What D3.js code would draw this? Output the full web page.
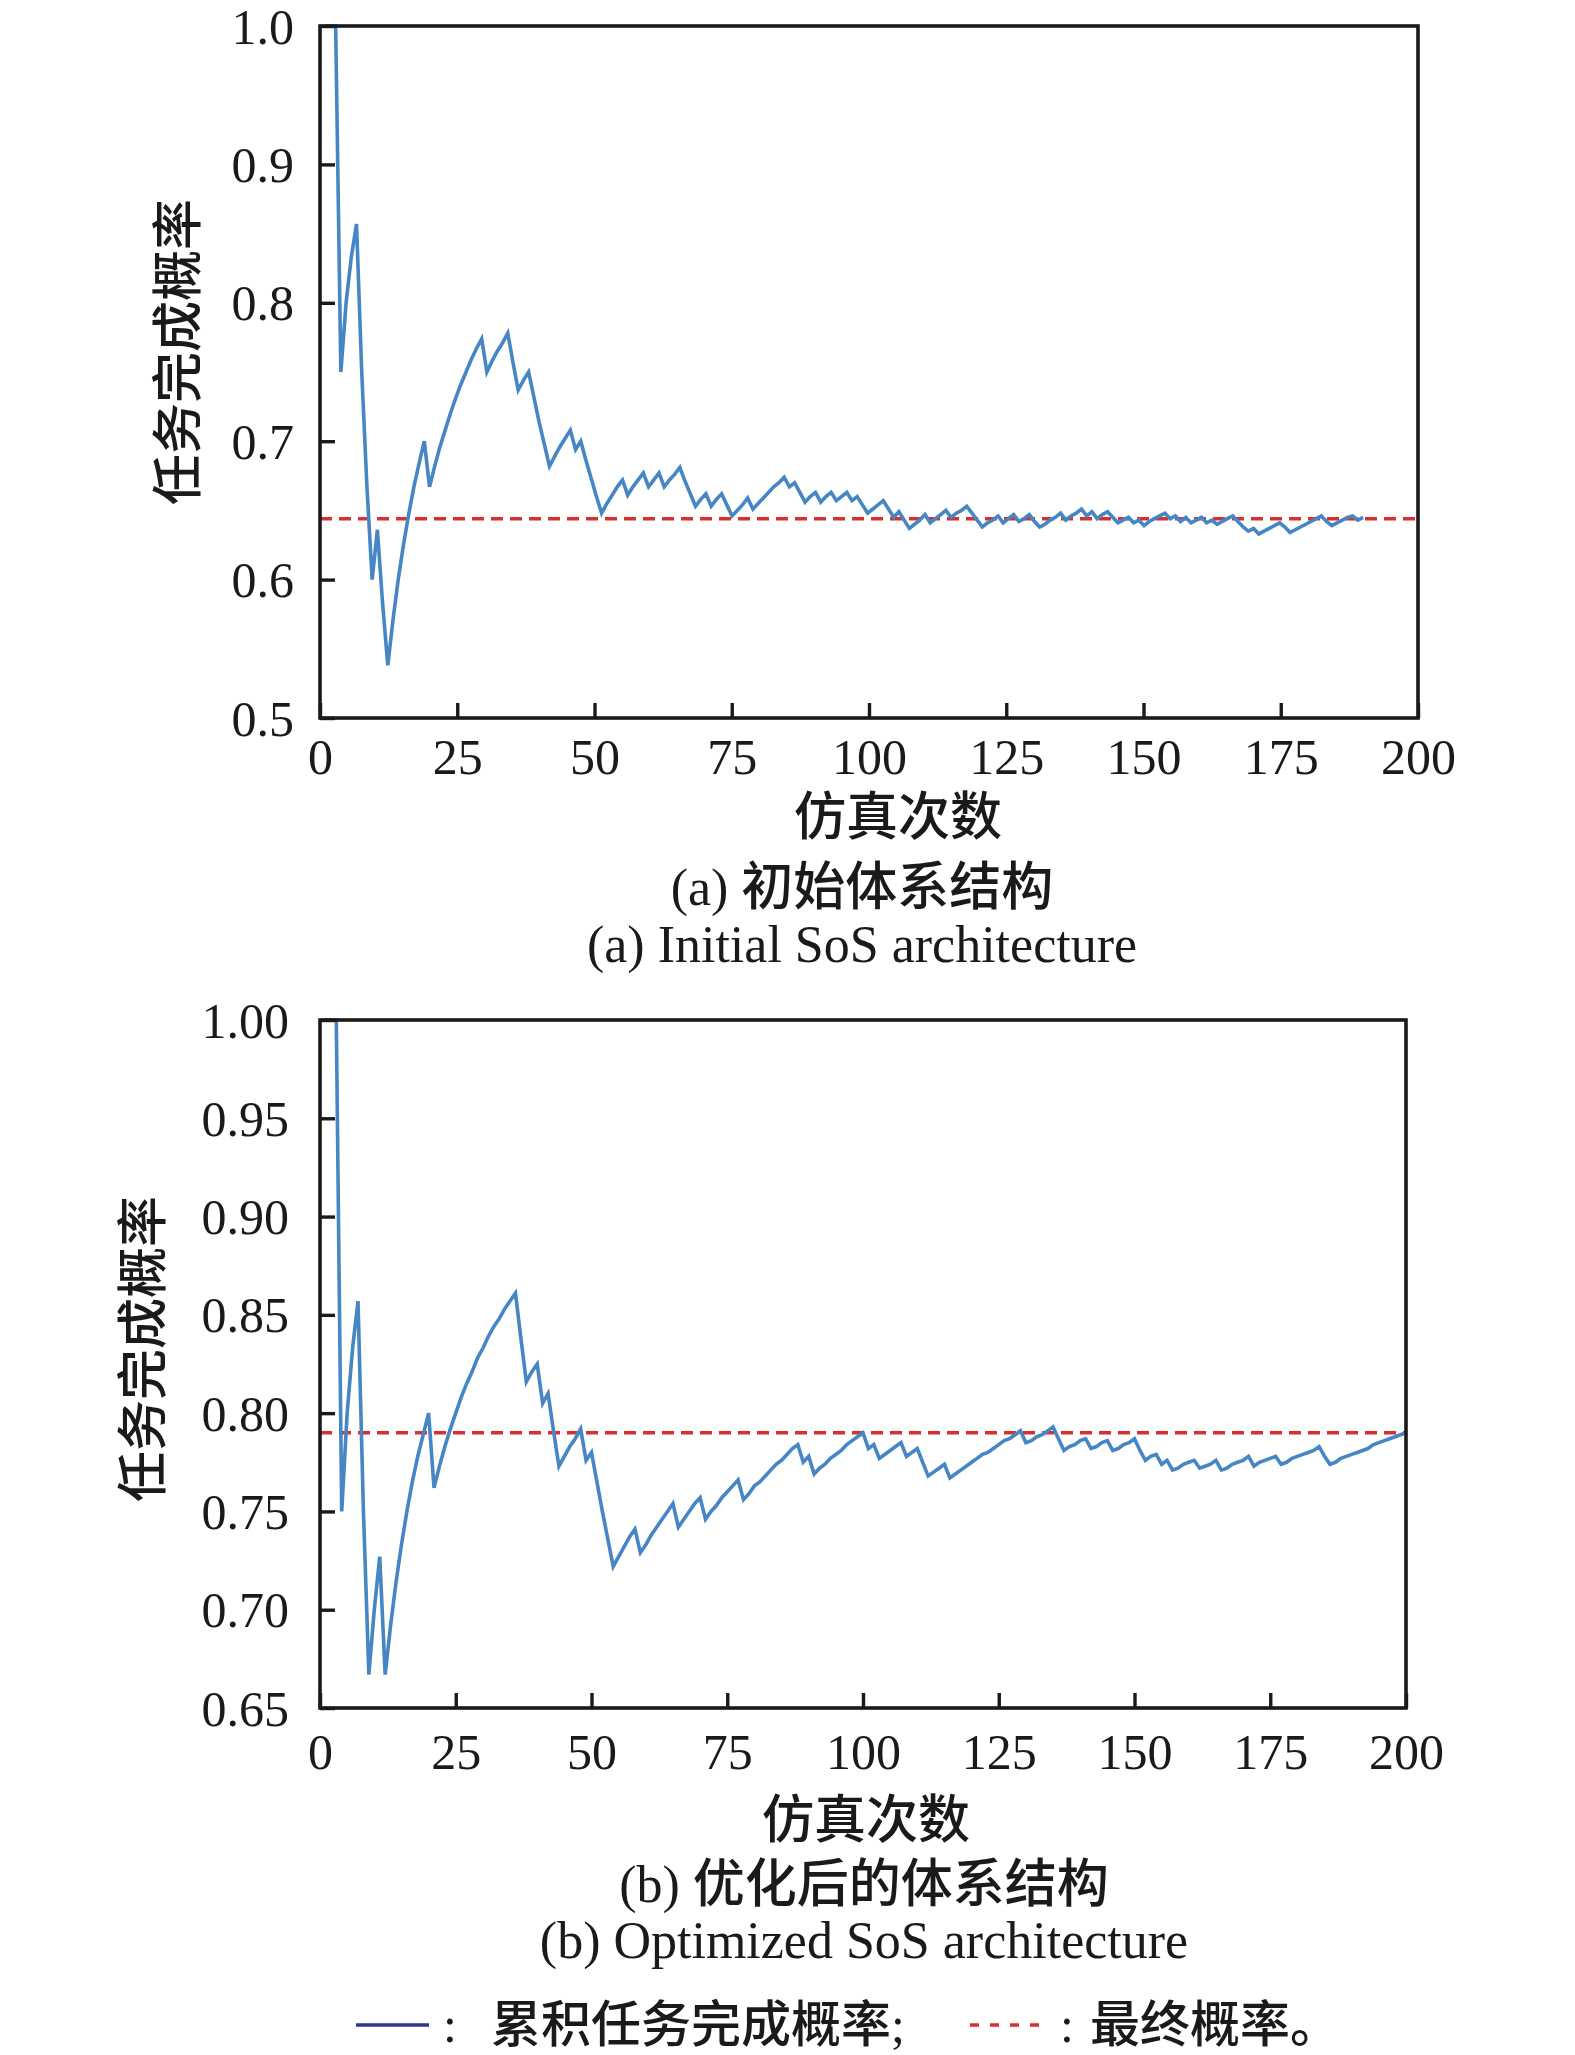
<!DOCTYPE html>
<html>
<head>
<meta charset="utf-8">
<script src="https://cdn.jsdelivr.net/npm/d3@7/dist/d3.min.js"></script>
<style>
  html, body { margin: 0; padding: 0; background: #ffffff; }
  svg { display: block; }
</style>
</head>
<body>
<svg id="chart" width="1575" height="2055"></svg>
<script>
// ---------------- DATA ----------------
// x tick labels (simulation count) shared by both panels
const xTickValues = [0, 25, 50, 75, 100, 125, 150, 175, 200];
const yTickValuesA = [0.5, 0.6, 0.7, 0.8, 0.9, 1.0];
const yTickValuesB = [0.65, 0.70, 0.75, 0.80, 0.85, 0.90, 0.95, 1.00];

// Panel (a): positions on the x axis where each cumulative point is drawn
const xA = [
  0.95,1.9,2.85,3.8,4.75,5.7,6.65,7.6,8.55,9.5,
  10.45,11.4,12.35,13.3,14.25,15.2,16.15,17.1,18.05,19,
  19.95,20.9,21.85,22.8,23.75,24.7,25.65,26.6,27.55,28.5,
  29.45,30.4,31.35,32.3,33.25,34.2,35.15,36.1,37.05,38,
  38.95,39.9,40.85,41.8,42.75,43.7,44.65,45.6,46.55,47.5,
  48.45,49.4,50.35,51.3,52.25,53.2,54.15,55.1,56.05,57,
  57.95,58.9,59.85,60.8,61.75,62.7,63.65,64.6,65.55,66.5,
  67.45,68.4,69.35,70.3,71.25,72.2,73.15,74.1,75.05,76,
  76.95,77.9,78.85,79.8,80.75,81.7,82.65,83.6,84.55,85.5,
  86.45,87.4,88.35,89.3,90.25,91.2,92.15,93.1,94.05,95,
  95.95,96.9,97.85,98.8,99.75,100.7,101.65,102.6,103.55,104.5,
  105.45,106.4,107.35,108.3,109.25,110.2,111.15,112.1,113.05,114,
  114.95,115.9,116.85,117.8,118.75,119.7,120.65,121.6,122.55,123.5,
  124.45,125.4,126.35,127.3,128.25,129.2,130.15,131.1,132.05,133,
  133.95,134.9,135.85,136.8,137.75,138.7,139.65,140.6,141.55,142.5,
  143.45,144.4,145.35,146.3,147.25,148.2,149.15,150.1,151.05,152,
  152.95,153.9,154.85,155.8,156.75,157.7,158.65,159.6,160.55,161.5,
  162.45,163.4,164.35,165.3,166.25,167.2,168.15,169.1,170.05,171,
  171.95,172.9,173.85,174.8,175.75,176.7,177.65,178.6,179.55,180.5,
  181.45,182.4,183.35,184.3,185.25,186.2,187.15,188.1,189.05,190
];
// Panel (a): cumulative mission completion probability
const probA = [
  1.000,1.000,1.000,0.750,0.800,0.833,0.857,0.750,0.667,0.600,
  0.636,0.583,0.538,0.571,0.600,0.625,0.647,0.667,0.684,0.700,
  0.667,0.682,0.696,0.708,0.720,0.731,0.741,0.750,0.759,0.767,
  0.774,0.750,0.758,0.765,0.771,0.778,0.757,0.737,0.744,0.750,
  0.732,0.714,0.698,0.682,0.689,0.696,0.702,0.708,0.694,0.700,
  0.686,0.673,0.660,0.648,0.655,0.661,0.667,0.672,0.661,0.667,
  0.672,0.677,0.667,0.672,0.677,0.667,0.672,0.676,0.681,0.671,
  0.662,0.653,0.658,0.662,0.653,0.658,0.662,0.654,0.646,0.650,
  0.654,0.659,0.651,0.655,0.659,0.663,0.667,0.670,0.674,0.667,
  0.670,0.663,0.656,0.660,0.663,0.656,0.660,0.663,0.657,0.660,
  0.663,0.657,0.660,0.654,0.648,0.651,0.654,0.657,0.651,0.645,
  0.649,0.643,0.637,0.640,0.643,0.647,0.641,0.644,0.647,0.650,
  0.645,0.648,0.650,0.653,0.648,0.643,0.638,0.641,0.643,0.646,
  0.641,0.644,0.647,0.642,0.644,0.647,0.642,0.638,0.640,0.643,
  0.645,0.648,0.643,0.646,0.648,0.651,0.646,0.649,0.644,0.647,
  0.649,0.645,0.641,0.643,0.645,0.641,0.643,0.639,0.642,0.644,
  0.646,0.648,0.644,0.646,0.642,0.645,0.641,0.643,0.645,0.641,
  0.643,0.640,0.642,0.644,0.646,0.642,0.638,0.635,0.637,0.633,
  0.635,0.637,0.639,0.641,0.638,0.634,0.636,0.638,0.640,0.642,
  0.644,0.646,0.642,0.639,0.641,0.643,0.645,0.646,0.643,0.645
];
const finalA = 0.644;

// Panel (b): simulation index
const xB = [
  1,2,3,4,5,6,7,8,9,10,11,12,13,14,15,16,17,18,19,20,
  21,22,23,24,25,26,27,28,29,30,31,32,33,34,35,36,37,38,39,40,
  41,42,43,44,45,46,47,48,49,50,51,52,53,54,55,56,57,58,59,60,
  61,62,63,64,65,66,67,68,69,70,71,72,73,74,75,76,77,78,79,80,
  81,82,83,84,85,86,87,88,89,90,91,92,93,94,95,96,97,98,99,100,
  101,102,103,104,105,106,107,108,109,110,111,112,113,114,115,116,117,118,119,120,
  121,122,123,124,125,126,127,128,129,130,131,132,133,134,135,136,137,138,139,140,
  141,142,143,144,145,146,147,148,149,150,151,152,153,154,155,156,157,158,159,160,
  161,162,163,164,165,166,167,168,169,170,171,172,173,174,175,176,177,178,179,180,
  181,182,183,184,185,186,187,188,189,190,191,192,193,194,195,196,197,198,199,200
];
// Panel (b): cumulative mission completion probability
const probB = [
  1.000,1.000,1.000,0.750,0.800,0.833,0.857,0.750,0.667,0.700,
  0.727,0.667,0.692,0.714,0.733,0.750,0.765,0.778,0.789,0.800,
  0.762,0.773,0.783,0.792,0.800,0.808,0.815,0.821,0.828,0.833,
  0.839,0.844,0.848,0.853,0.857,0.861,0.838,0.816,0.821,0.825,
  0.805,0.810,0.791,0.773,0.778,0.783,0.787,0.792,0.776,0.780,
  0.765,0.750,0.736,0.722,0.727,0.732,0.737,0.741,0.729,0.733,
  0.738,0.742,0.746,0.750,0.754,0.742,0.746,0.750,0.754,0.757,
  0.746,0.750,0.753,0.757,0.760,0.763,0.766,0.756,0.759,0.763,
  0.765,0.768,0.771,0.774,0.776,0.779,0.782,0.784,0.775,0.778,
  0.769,0.772,0.774,0.777,0.779,0.781,0.784,0.786,0.788,0.790,
  0.782,0.784,0.777,0.779,0.781,0.783,0.785,0.778,0.780,0.782,
  0.775,0.768,0.770,0.772,0.774,0.767,0.769,0.771,0.773,0.775,
  0.777,0.779,0.780,0.782,0.784,0.786,0.787,0.789,0.791,0.785,
  0.786,0.788,0.789,0.791,0.793,0.787,0.781,0.783,0.784,0.786,
  0.787,0.782,0.783,0.785,0.786,0.781,0.782,0.784,0.785,0.787,
  0.781,0.776,0.778,0.779,0.774,0.776,0.771,0.772,0.774,0.775,
  0.776,0.772,0.773,0.774,0.776,0.771,0.772,0.774,0.775,0.776,
  0.778,0.773,0.775,0.776,0.777,0.778,0.774,0.775,0.777,0.778,
  0.779,0.780,0.781,0.783,0.778,0.774,0.775,0.777,0.778,0.779,
  0.780,0.781,0.782,0.784,0.785,0.786,0.787,0.788,0.789,0.790
];
const finalB = 0.790;

// Text
const yTitle = "任务完成概率";
const xTitle = "仿真次数";
const captionsA = ["(a) 初始体系结构", "(a) Initial SoS architecture"];
const captionsB = ["(b) 优化后的体系结构", "(b) Optimized SoS architecture"];
const legendLabels = ["累积任务完成概率;", "最终概率。"];

// ---------------- DRAWING ----------------
const LATIN = "'Liberation Serif', 'Times New Roman', serif";
const MIXED = "'Liberation Serif', 'Noto Sans CJK SC', serif";
const BLUE = "#4686c5";
const RED = "#d8302f";
const INK = "#1a1a1a";

const svg = d3.select("#chart");

function panel(cfg) {
  const x = d3.scaleLinear().domain([0, 200]).range([cfg.left, cfg.right]);
  const y = d3.scaleLinear().domain(cfg.yDomain).range([cfg.bottom, cfg.top]);
  const g = svg.append("g");

  // final probability (dashed)
  g.append("line")
    .attr("x1", x(0)).attr("x2", x(200))
    .attr("y1", y(cfg.final)).attr("y2", y(cfg.final))
    .attr("stroke", RED).attr("stroke-width", 3.6)
    .attr("stroke-dasharray", "12,7");

  // cumulative line
  const pts = cfg.xs.map((v, i) => [v, cfg.ys[i]]);
  g.append("path")
    .datum(pts)
    .attr("fill", "none")
    .attr("stroke", BLUE)
    .attr("stroke-width", 3.6)
    .attr("stroke-linejoin", "miter")
    .attr("d", d3.line().x(d => x(d[0])).y(d => y(d[1])));

  // axes (ticks inward)
  const xAxis = g.append("g")
    .attr("transform", `translate(0,${cfg.bottom})`)
    .call(d3.axisBottom(x).tickValues(xTickValues).tickSize(-15).tickFormat(d3.format("d")));
  xAxis.select(".domain").remove();
  xAxis.selectAll(".tick line").attr("stroke", INK).attr("stroke-width", 3.4);
  xAxis.selectAll(".tick text")
    .attr("y", cfg.xLabelOffset).attr("dy", null)
    .attr("dominant-baseline", "central")
    .attr("fill", INK)
    .style("font-family", LATIN).style("font-size", "50px");

  const yAxis = g.append("g")
    .attr("transform", `translate(${cfg.left},0)`)
    .call(d3.axisLeft(y).tickValues(cfg.yTicks).tickSize(-15).tickFormat(d3.format(cfg.yFormat)));
  yAxis.select(".domain").remove();
  yAxis.selectAll(".tick line").attr("stroke", INK).attr("stroke-width", 3.4);
  yAxis.selectAll(".tick text")
    .attr("x", -cfg.yLabelOffset).attr("dy", null)
    .attr("dominant-baseline", "central")
    .attr("fill", INK)
    .style("font-family", LATIN).style("font-size", "50px");

  // frame
  g.append("rect")
    .attr("x", cfg.left).attr("y", cfg.top)
    .attr("width", cfg.right - cfg.left).attr("height", cfg.bottom - cfg.top)
    .attr("fill", "none").attr("stroke", INK).attr("stroke-width", 3.6);

  // y title
  g.append("text")
    .attr("transform", `translate(${cfg.yTitleX},${cfg.yTitleY}) rotate(-90)`)
    .attr("text-anchor", "middle").attr("dominant-baseline", "central")
    .attr("fill", INK)
    .style("font-family", MIXED).style("font-size", "51px").style("font-weight", "500")
    .text(yTitle);

  // x title
  g.append("text")
    .attr("x", cfg.xTitleX).attr("y", cfg.xTitleY)
    .attr("text-anchor", "middle").attr("dominant-baseline", "central")
    .attr("fill", INK)
    .style("font-family", MIXED).style("font-size", "52px").style("font-weight", "500")
    .text(xTitle);

  // captions
  g.append("text")
    .attr("x", cfg.capX).attr("y", cfg.capY1)
    .attr("text-anchor", "middle").attr("dominant-baseline", "central")
    .attr("fill", INK)
    .style("font-family", MIXED).style("font-size", "52px").style("font-weight", "500")
    .text(cfg.captions[0]);
  g.append("text")
    .attr("x", cfg.capX).attr("y", cfg.capY2)
    .attr("text-anchor", "middle")
    .attr("fill", INK)
    .style("font-family", LATIN).style("font-size", "52px")
    .text(cfg.captions[1]);
}

panel({
  left: 320, right: 1418, top: 26, bottom: 718,
  yDomain: [0.5, 1.0], yTicks: yTickValuesA, yFormat: ".1f",
  xs: xA, ys: probA, final: finalA,
  xLabelOffset: 39, yLabelOffset: 26,
  yTitleX: 179, yTitleY: 352,
  xTitleX: 898, xTitleY: 817,
  capX: 862, capY1: 887, capY2: 962,
  captions: captionsA
});

panel({
  left: 320, right: 1406, top: 1020, bottom: 1708,
  yDomain: [0.65, 1.0], yTicks: yTickValuesB, yFormat: ".2f",
  xs: xB, ys: probB, final: finalB,
  xLabelOffset: 44, yLabelOffset: 31,
  yTitleX: 144, yTitleY: 1349,
  xTitleX: 866, xTitleY: 1820,
  capX: 864, capY1: 1884, capY2: 1958,
  captions: captionsB
});

// legend
const lg = svg.append("g");
const legY = 2025;
lg.append("line")
  .attr("x1", 356).attr("x2", 429).attr("y1", legY).attr("y2", legY)
  .attr("stroke", "#2e3590").attr("stroke-width", 3.4);
lg.append("text")
  .attr("x", 450).attr("y", legY).attr("text-anchor", "middle")
  .attr("dominant-baseline", "central").attr("fill", INK)
  .style("font-family", LATIN).style("font-size", "50px").text(":");
lg.append("text")
  .attr("x", 491).attr("y", legY).attr("dominant-baseline", "central").attr("fill", INK)
  .style("font-family", MIXED).style("font-size", "50px").style("font-weight", "500").text(legendLabels[0]);
lg.append("line")
  .attr("x1", 970).attr("x2", 1041).attr("y1", legY).attr("y2", legY)
  .attr("stroke", RED).attr("stroke-width", 3.4).attr("stroke-dasharray", "9,11");
lg.append("text")
  .attr("x", 1067).attr("y", legY).attr("text-anchor", "middle")
  .attr("dominant-baseline", "central").attr("fill", INK)
  .style("font-family", LATIN).style("font-size", "50px").text(":");
lg.append("text")
  .attr("x", 1090).attr("y", legY).attr("dominant-baseline", "central").attr("fill", INK)
  .style("font-family", MIXED).style("font-size", "50px").style("font-weight", "500").text(legendLabels[1]);
</script>
</body>
</html>
